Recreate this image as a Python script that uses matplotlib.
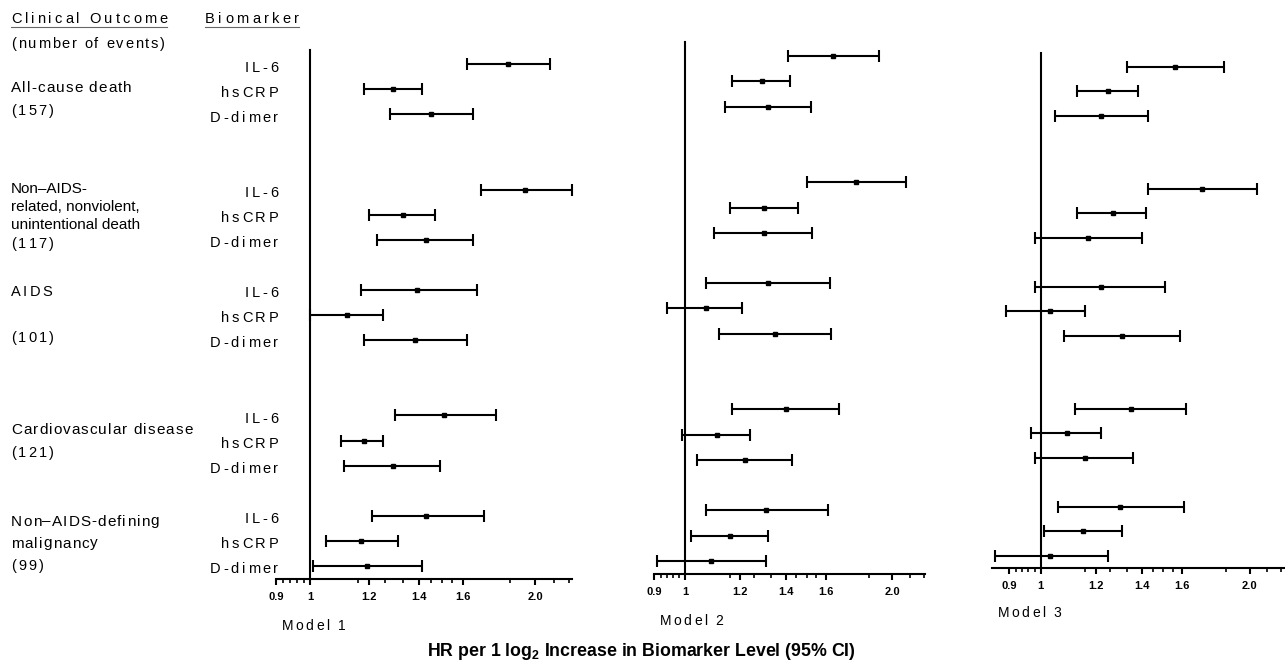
import numpy as np
import matplotlib
matplotlib.use('Agg')
import matplotlib.pyplot as plt
from matplotlib.font_manager import FontProperties, findfont, get_font
from matplotlib.lines import Line2D
from matplotlib.ticker import FixedLocator, NullFormatter

plt.rcParams['font.family'] = ['Liberation Sans', 'DejaVu Sans']
plt.rcParams['mathtext.fontset'] = 'custom'
plt.rcParams['mathtext.rm'] = 'Liberation Sans'
plt.rcParams['mathtext.bf'] = 'Liberation Sans:bold'

# datos
outcomes = [['All-cause death', '(157)'],
            ['Non–AIDS-', 'related, nonviolent,', 'unintentional death', '(117)'],
            ['AIDS', '(101)'],
            ['Cardiovascular disease', '(121)'],
            ['Non–AIDS-defining', 'malignancy', '(99)']]
biomarkers = ['IL-6', 'hsCRP', 'D-dimer']

# orden: outcome x biomarker (IL-6, hsCRP, D-dimer)
m1_hr = [1.84, 1.29, 1.45, 1.94, 1.33, 1.43, 1.39, 1.12, 1.38, 1.51, 1.18, 1.29, 1.43, 1.17, 1.19]
m1_lo = [1.62, 1.18, 1.28, 1.69, 1.20, 1.23, 1.17, 1.00, 1.18, 1.30, 1.10, 1.11, 1.21, 1.05, 1.01]
m1_hi = [2.09, 1.41, 1.65, 2.24, 1.47, 1.65, 1.67, 1.25, 1.62, 1.77, 1.25, 1.49, 1.71, 1.31, 1.41]

m2_hr = [1.64, 1.29, 1.32, 1.77, 1.30, 1.30, 1.32, 1.07, 1.35, 1.40, 1.11, 1.22, 1.31, 1.16, 1.09]
m2_lo = [1.41, 1.17, 1.14, 1.50, 1.16, 1.10, 1.07, 0.94, 1.12, 1.17, 0.99, 1.04, 1.07, 1.02, 0.91]
m2_hi = [1.91, 1.42, 1.52, 2.09, 1.46, 1.53, 1.62, 1.21, 1.63, 1.67, 1.24, 1.43, 1.61, 1.32, 1.31]

m3_hr = [1.56, 1.25, 1.22, 1.71, 1.27, 1.17, 1.22, 1.03, 1.31, 1.35, 1.09, 1.16, 1.30, 1.15, 1.03]
m3_lo = [1.33, 1.13, 1.05, 1.43, 1.13, 0.98, 0.98, 0.89, 1.08, 1.12, 0.97, 0.98, 1.06, 1.01, 0.86]
m3_hi = [1.84, 1.38, 1.43, 2.05, 1.42, 1.40, 1.51, 1.16, 1.59, 1.62, 1.22, 1.36, 1.61, 1.31, 1.25]

major_ticks = [0.9, 1, 1.2, 1.4, 1.6, 2.0]
tick_labels = ['0.9', '1', '1.2', '1.4', '1.6', '2.0']
minor_ticks = [0.92, 0.94, 0.96, 0.98, 1.16, 1.26, 1.33, 1.45, 1.5, 1.55, 1.85, 2.12, 2.22]

# layout (pixeles)
W, H, DPI = 1285, 665, 100
group_starts = [0, 5, 9, 14, 18]
rows = [g + k for g in group_starts for k in range(3)]
outcome_y = [[87, 110], [189, 207, 225, 243], [291, 337], [428, 452], [520, 542, 565]]
panels = [  # left, right, top, bottom, xlim, model label pos
    (276, 572, 50, 579, (0.90, 2.24), (282, 625)),
    (654, 925, 41.7, 574, (0.90, 2.23), (660, 620)),
    (991.7, 1285, 52.7, 568.3, (0.85, 2.25), (998, 612)),
]

fig = plt.figure(figsize=(W / DPI, H / DPI), dpi=DPI)
hf = plt.rcParams['text.hinting_factor']


def track(x, y, s, size=10.5, gap=2.5, ha='left', weight='normal'):
    # texto con espaciado entre letras; x, y en pixeles desde arriba-izquierda (y = centro)
    prop = FontProperties(family='Liberation Sans', size=size, weight=weight)
    font = get_font(findfont(prop))
    font.set_size(size, DPI)
    adv = [font.load_char(ord(c)).horiAdvance / 64 / hf for c in s]
    total = sum(adv) + gap * (len(s) - 1)
    if ha == 'right':
        x -= total
    x0 = x
    base = y + 0.36 * size * DPI / 72
    for c, a in zip(s, adv):
        fig.text(x / W, 1 - base / H, c, fontproperties=prop, va='baseline', ha='left')
        x += a + gap
    return x0, x0 + total


models = [(m1_hr, m1_lo, m1_hi), (m2_hr, m2_lo, m2_hi), (m3_hr, m3_lo, m3_hi)]
axes = []
for i, ((hr, lo, hi), (l, r, t, b, xl, mpos)) in enumerate(zip(models, panels)):
    ax = fig.add_axes([l / W, 1 - b / H, (r - l) / W, (b - t) / H])
    ax.set_xscale('log', base=2)
    hr = np.array(hr); lo = np.array(lo); hi = np.array(hi)
    eb = ax.errorbar(hr, rows, xerr=[hr - lo, hi - hr], fmt='s', ms=3, color='black',
                     elinewidth=1.5, capsize=4.5, capthick=1.5)
    for art in [eb[0], *eb[1], *eb[2]]:
        art.set_clip_on(False)
    ax.set_xlim(xl)
    ax.set_ylim(20.52, -0.57)
    ax.spines['left'].set_position(('data', 1))
    ax.spines[['top', 'right']].set_visible(False)
    ax.spines['left'].set_linewidth(1.5)
    ax.spines['bottom'].set_linewidth(1.5)
    ax.set_yticks([])
    ax.xaxis.set_major_locator(FixedLocator(major_ticks))
    ax.xaxis.set_minor_locator(FixedLocator(minor_ticks))
    ax.xaxis.set_minor_formatter(NullFormatter())
    ax.set_xticks(major_ticks, labels=tick_labels, fontweight='bold', fontsize=8)
    ax.tick_params(axis='x', which='major', length=4.5, width=1.5, pad=5)
    ax.tick_params(axis='x', which='minor', length=3, width=1.2)
    ax.patch.set_alpha(0)
    track(mpos[0], mpos[1], 'Model %d' % (i + 1), size=10, gap=2.3)
    axes.append(ax)

# etiquetas de biomarcador junto al panel 1
ax1 = axes[0]
for k, yr in enumerate(rows):
    ypx = H - ax1.transData.transform((1, yr))[1] + 2
    track(278, ypx, biomarkers[k % 3], size=10.5, gap=2.6, ha='right')

# cabeceras
x0, x1 = track(11, 18, 'Clinical Outcome', size=10.5, gap=3.0)
fig.add_artist(Line2D([x0 / W, x1 / W], [1 - 27 / H] * 2, color='#666666', lw=0.8))
x0, x1 = track(205, 18, 'Biomarker', size=10.5, gap=3.4)
fig.add_artist(Line2D([x0 / W, x1 / W], [1 - 27 / H] * 2, color='#666666', lw=0.8))
track(11, 43, '(number of events)', size=10.5, gap=1.8)

for g, (lines, ys) in enumerate(zip(outcomes, outcome_y)):
    for s, y in zip(lines, ys):
        if s.startswith('(') or s == 'AIDS':
            track(11, y, s, size=10.5, gap=2.2)
        elif g == 1:
            fig.text(11 / W, 1 - y / H, s, fontsize=11, ha='left', va='center')
        else:
            track(11, y, s, size=11, gap=1.1)

fig.text(641 / W, 1 - 652 / H, r'HR per 1 log$_\mathbf{2}$ Increase in Biomarker Level (95% CI)',
         fontsize=12.8, fontweight='bold', ha='center', va='center')

fig.savefig('out.png', dpi=DPI)
